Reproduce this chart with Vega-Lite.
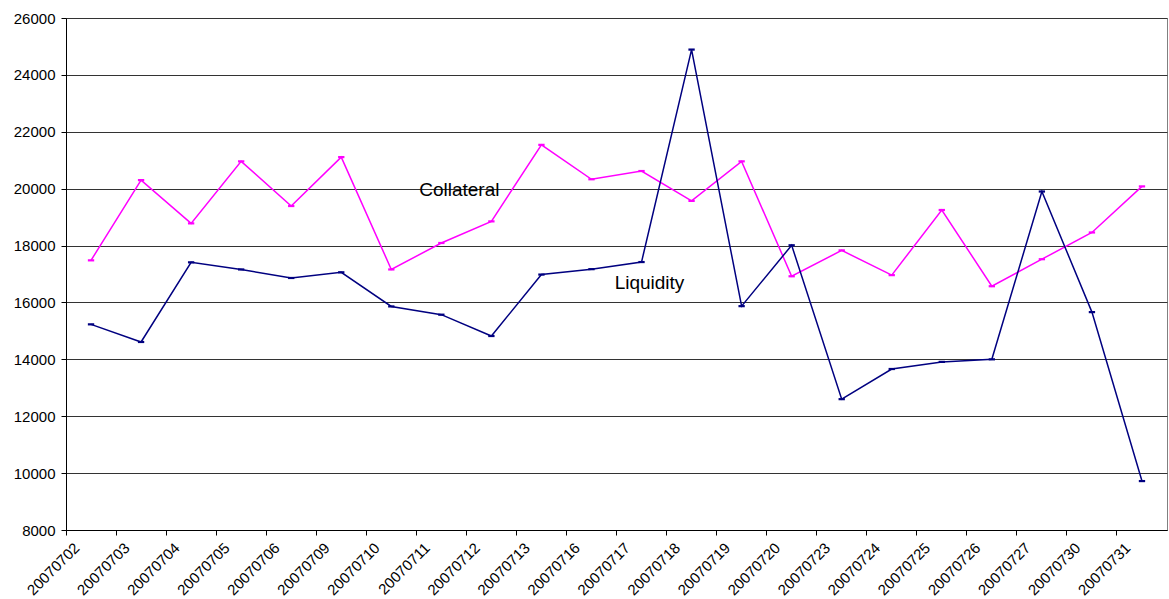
{
  "$schema": "https://vega.github.io/schema/vega-lite/v6.json",
  "width": 1101,
  "height": 512,
  "autosize": {"type": "none"},
  "padding": {"left": 66, "top": 18, "right": 2, "bottom": 69},
  "background": "white",
  "config": {
    "view": {"stroke": "#808080", "strokeWidth": 1},
    "font": "Liberation Sans",
    "axis": {"labelFont": "Liberation Sans", "labelColor": "black"}
  },
  "datasets": {
    "series": [
      {"date": "20070702", "series": "Collateral", "value": 17480},
      {"date": "20070703", "series": "Collateral", "value": 20300},
      {"date": "20070704", "series": "Collateral", "value": 18780},
      {"date": "20070705", "series": "Collateral", "value": 20960},
      {"date": "20070706", "series": "Collateral", "value": 19390},
      {"date": "20070709", "series": "Collateral", "value": 21110},
      {"date": "20070710", "series": "Collateral", "value": 17160},
      {"date": "20070711", "series": "Collateral", "value": 18090},
      {"date": "20070712", "series": "Collateral", "value": 18850},
      {"date": "20070713", "series": "Collateral", "value": 21540},
      {"date": "20070716", "series": "Collateral", "value": 20330},
      {"date": "20070717", "series": "Collateral", "value": 20620},
      {"date": "20070718", "series": "Collateral", "value": 19570},
      {"date": "20070719", "series": "Collateral", "value": 20960},
      {"date": "20070720", "series": "Collateral", "value": 16920},
      {"date": "20070723", "series": "Collateral", "value": 17830},
      {"date": "20070724", "series": "Collateral", "value": 16960},
      {"date": "20070725", "series": "Collateral", "value": 19250},
      {"date": "20070726", "series": "Collateral", "value": 16570},
      {"date": "20070727", "series": "Collateral", "value": 17520},
      {"date": "20070730", "series": "Collateral", "value": 18460},
      {"date": "20070731", "series": "Collateral", "value": 20080},
      {"date": "20070702", "series": "Liquidity", "value": 15230},
      {"date": "20070703", "series": "Liquidity", "value": 14610},
      {"date": "20070704", "series": "Liquidity", "value": 17410},
      {"date": "20070705", "series": "Liquidity", "value": 17160},
      {"date": "20070706", "series": "Liquidity", "value": 16860},
      {"date": "20070709", "series": "Liquidity", "value": 17060},
      {"date": "20070710", "series": "Liquidity", "value": 15860},
      {"date": "20070711", "series": "Liquidity", "value": 15570},
      {"date": "20070712", "series": "Liquidity", "value": 14820},
      {"date": "20070713", "series": "Liquidity", "value": 16980},
      {"date": "20070716", "series": "Liquidity", "value": 17170},
      {"date": "20070717", "series": "Liquidity", "value": 17420},
      {"date": "20070718", "series": "Liquidity", "value": 24890},
      {"date": "20070719", "series": "Liquidity", "value": 15870},
      {"date": "20070720", "series": "Liquidity", "value": 18010},
      {"date": "20070723", "series": "Liquidity", "value": 12600},
      {"date": "20070724", "series": "Liquidity", "value": 13660},
      {"date": "20070725", "series": "Liquidity", "value": 13910},
      {"date": "20070726", "series": "Liquidity", "value": 14000},
      {"date": "20070727", "series": "Liquidity", "value": 19900},
      {"date": "20070730", "series": "Liquidity", "value": 15660},
      {"date": "20070731", "series": "Liquidity", "value": 9720}
    ],
    "labels": [
      {"date": "20070711", "value": 19970, "text": "Collateral"},
      {"date": "20070717", "value": 16680, "text": "Liquidity"}
    ]
  },
  "encoding": {
    "x": {
      "field": "date",
      "type": "ordinal",
      "scale": {"type": "band", "paddingInner": 0, "paddingOuter": 0},
      "axis": {
        "title": null,
        "bandPosition": 0,
        "grid": false,
        "labelAngle": -45,
        "labelAlign": "right",
        "labelBaseline": "top",
        "labelFontSize": 15,
        "labelPadding": 5,
        "labelOffset": -19,
        "tickColor": "black",
        "tickSize": 5,
        "domainColor": "black"
      }
    },
    "y": {
      "field": "value",
      "type": "quantitative",
      "scale": {"domain": [8000, 26000], "nice": false, "zero": false},
      "axis": {
        "title": null,
        "values": [8000, 10000, 12000, 14000, 16000, 18000, 20000, 22000, 24000, 26000],
        "format": "d",
        "labelFontSize": 15,
        "labelPadding": 6,
        "tickColor": "black",
        "tickSize": 5,
        "domainColor": "black",
        "gridColor": "#333333",
        "gridWidth": 1,
        "gridOpacity": 1
      }
    }
  },
  "layer": [
    {
      "data": {"name": "series"},
      "mark": {"type": "line", "strokeWidth": 1.5},
      "encoding": {
        "color": {
          "field": "series",
          "type": "nominal",
          "scale": {"domain": ["Collateral", "Liquidity"], "range": ["#FF00FF", "#000080"]},
          "legend": null
        }
      }
    },
    {
      "data": {"name": "series"},
      "mark": {"type": "point", "shape": "M-1,-0.35H1V0.35H-1Z", "filled": true, "size": 40, "opacity": 1},
      "encoding": {
        "color": {
          "field": "series",
          "type": "nominal",
          "scale": {"domain": ["Collateral", "Liquidity"], "range": ["#FF00FF", "#000080"]},
          "legend": null
        }
      }
    },
    {
      "data": {"name": "labels"},
      "transform": [{"filter": "datum.text === 'Collateral'"}],
      "mark": {"type": "text", "fontSize": 19, "color": "black", "align": "center", "baseline": "middle", "dx": 18},
      "encoding": {"text": {"field": "text"}}
    },
    {
      "data": {"name": "labels"},
      "transform": [{"filter": "datum.text === 'Liquidity'"}],
      "mark": {"type": "text", "fontSize": 19, "color": "black", "align": "center", "baseline": "middle", "dx": 8},
      "encoding": {"text": {"field": "text"}}
    }
  ]
}
